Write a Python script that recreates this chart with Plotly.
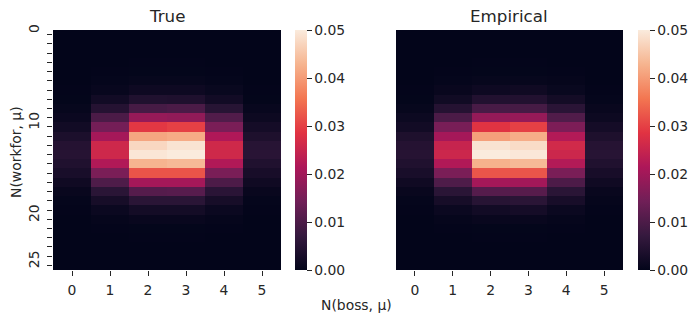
import plotly.graph_objects as go

boss_labels = [0, 1, 2, 3, 4, 5]
workfor_labels = list(range(26))
workfor_ticktext = ["0", "", "", "", "", "", "", "", "", "", "10", "", "", "", "", "", "", "", "", "",
                    "20", "", "", "", "", "25"]
colorbar_ticks = [0.0, 0.01, 0.02, 0.03, 0.04, 0.05]

# one row per N(workfor)
true_values = [
    [0.0000, 0.0000, 0.0000, 0.0000, 0.0000, 0.0000],
    [0.0000, 0.0000, 0.0000, 0.0000, 0.0000, 0.0000],
    [0.0000, 0.0000, 0.0000, 0.0000, 0.0000, 0.0000],
    [0.0000, 0.0000, 0.0001, 0.0001, 0.0000, 0.0000],
    [0.0000, 0.0001, 0.0002, 0.0002, 0.0001, 0.0000],
    [0.0000, 0.0003, 0.0006, 0.0006, 0.0003, 0.0000],
    [0.0001, 0.0007, 0.0016, 0.0016, 0.0009, 0.0001],
    [0.0002, 0.0021, 0.0042, 0.0040, 0.0022, 0.0002],
    [0.0006, 0.0048, 0.0092, 0.0098, 0.0052, 0.0007],
    [0.0012, 0.0098, 0.0187, 0.0182, 0.0105, 0.0014],
    [0.0022, 0.0148, 0.0290, 0.0300, 0.0155, 0.0026],
    [0.0036, 0.0205, 0.0411, 0.0418, 0.0218, 0.0038],
    [0.0048, 0.0258, 0.0474, 0.0490, 0.0260, 0.0052],
    [0.0050, 0.0258, 0.0494, 0.0500, 0.0260, 0.0054],
    [0.0042, 0.0220, 0.0429, 0.0435, 0.0220, 0.0042],
    [0.0032, 0.0154, 0.0321, 0.0321, 0.0155, 0.0030],
    [0.0018, 0.0102, 0.0205, 0.0205, 0.0100, 0.0018],
    [0.0008, 0.0056, 0.0110, 0.0113, 0.0055, 0.0008],
    [0.0003, 0.0028, 0.0056, 0.0056, 0.0028, 0.0003],
    [0.0001, 0.0012, 0.0024, 0.0024, 0.0012, 0.0001],
    [0.0000, 0.0004, 0.0008, 0.0008, 0.0004, 0.0000],
    [0.0000, 0.0001, 0.0002, 0.0002, 0.0001, 0.0000],
    [0.0000, 0.0000, 0.0001, 0.0001, 0.0000, 0.0000],
    [0.0000, 0.0000, 0.0000, 0.0000, 0.0000, 0.0000],
    [0.0000, 0.0000, 0.0000, 0.0000, 0.0000, 0.0000],
    [0.0000, 0.0000, 0.0000, 0.0000, 0.0000, 0.0000],
]
empirical_values = [
    [0.0000, 0.0000, 0.0000, 0.0000, 0.0000, 0.0000],
    [0.0000, 0.0000, 0.0000, 0.0000, 0.0000, 0.0000],
    [0.0000, 0.0000, 0.0000, 0.0000, 0.0000, 0.0000],
    [0.0000, 0.0000, 0.0001, 0.0001, 0.0000, 0.0000],
    [0.0000, 0.0001, 0.0002, 0.0002, 0.0001, 0.0000],
    [0.0000, 0.0003, 0.0006, 0.0006, 0.0004, 0.0000],
    [0.0001, 0.0008, 0.0015, 0.0018, 0.0009, 0.0001],
    [0.0002, 0.0020, 0.0044, 0.0044, 0.0024, 0.0003],
    [0.0006, 0.0048, 0.0095, 0.0092, 0.0055, 0.0008],
    [0.0013, 0.0098, 0.0185, 0.0187, 0.0105, 0.0014],
    [0.0022, 0.0152, 0.0285, 0.0300, 0.0158, 0.0026],
    [0.0038, 0.0205, 0.0405, 0.0420, 0.0222, 0.0038],
    [0.0048, 0.0248, 0.0490, 0.0480, 0.0262, 0.0050],
    [0.0050, 0.0255, 0.0500, 0.0495, 0.0255, 0.0052],
    [0.0042, 0.0220, 0.0425, 0.0435, 0.0222, 0.0042],
    [0.0031, 0.0155, 0.0322, 0.0322, 0.0155, 0.0030],
    [0.0018, 0.0102, 0.0205, 0.0202, 0.0100, 0.0018],
    [0.0008, 0.0056, 0.0110, 0.0112, 0.0056, 0.0008],
    [0.0003, 0.0028, 0.0052, 0.0056, 0.0030, 0.0004],
    [0.0001, 0.0012, 0.0022, 0.0025, 0.0012, 0.0001],
    [0.0000, 0.0004, 0.0008, 0.0008, 0.0004, 0.0000],
    [0.0000, 0.0001, 0.0002, 0.0002, 0.0001, 0.0000],
    [0.0000, 0.0000, 0.0001, 0.0001, 0.0000, 0.0000],
    [0.0000, 0.0000, 0.0000, 0.0000, 0.0000, 0.0000],
    [0.0000, 0.0000, 0.0000, 0.0000, 0.0000, 0.0000],
    [0.0000, 0.0000, 0.0000, 0.0000, 0.0000, 0.0000],
]

# seaborn rocket
rocket = [
    [0.0, "#03051a"], [1 / 7, "#35193e"], [2 / 7, "#701f57"], [3 / 7, "#ad1759"],
    [4 / 7, "#e13342"], [5 / 7, "#f37651"], [6 / 7, "#f6b48f"], [1.0, "#faebdd"],
]

WIDTH, HEIGHT = 700, 322
FONT = "DejaVu Sans"
TEXT = "#262626"
TOP, BOTTOM = 30, 270
TICK_SIZE = 13.9
TITLE_SIZE = 16.7


def px_x(x):
    return x / WIDTH


def px_y(y):
    return 1 - y / HEIGHT


def heatmap(values, xaxis, yaxis, bar_left):
    return go.Heatmap(
        z=values, x=boss_labels, y=workfor_labels,
        xaxis=xaxis, yaxis=yaxis,
        colorscale=rocket, zmin=0, zmax=0.05,
        colorbar=dict(
            x=px_x(bar_left), xanchor="left", xpad=0, ypad=0,
            y=px_y(TOP), yanchor="top",
            len=BOTTOM - TOP, lenmode="pixels",
            thickness=12, thicknessmode="pixels",
            outlinewidth=0,
            ticks="outside", ticklen=5, tickwidth=1, tickcolor=TEXT,
            tickvals=colorbar_ticks, tickformat=".2f", tickprefix="\u00a0",
            tickfont=dict(family=FONT, size=TICK_SIZE, color=TEXT),
        ),
    )


def label(text, x, y, size=TICK_SIZE, angle=0):
    fig.add_annotation(text=text, xref="paper", yref="paper", x=px_x(x), y=px_y(y),
                       xanchor="center", yanchor="middle", showarrow=False, textangle=angle,
                       font=dict(family=FONT, size=size, color=TEXT))


fig = go.Figure()
fig.add_trace(heatmap(true_values, "x", "y", 295))
fig.add_trace(heatmap(empirical_values, "x2", "y2", 638))

tick_style = dict(ticks="outside", ticklen=5, tickwidth=1, tickcolor=TEXT, showgrid=False,
                  zeroline=False, showline=False, ticklabelstandoff=2,
                  tickfont=dict(family=FONT, size=TICK_SIZE, color=TEXT))

fig.update_layout(
    width=WIDTH, height=HEIGHT,
    margin=dict(l=0, r=0, t=0, b=0, autoexpand=False),
    paper_bgcolor="white", plot_bgcolor="white",
    font=dict(family=FONT, color=TEXT),
    xaxis=dict(domain=[px_x(53), px_x(281)], range=[-0.5, 5.5], tickvals=boss_labels, **tick_style),
    xaxis2=dict(domain=[px_x(396), px_x(623)], range=[-0.5, 5.5], tickvals=boss_labels, **tick_style),
    yaxis=dict(domain=[px_y(BOTTOM), px_y(TOP)], range=[25.5, -0.5],
               tickvals=workfor_labels, ticktext=workfor_ticktext, tickangle=-90,
               ticklabelshift=4, **tick_style),
    yaxis2=dict(domain=[px_y(BOTTOM), px_y(TOP)], range=[25.5, -0.5], visible=False),
)

label("True", 167, 16, size=TITLE_SIZE)
label("Empirical", 509, 16, size=TITLE_SIZE)
label("N(boss, µ)", 356, 305)
label("N(workfor, µ)", 16, 152, angle=-90)

fig.write_html("out.html", config={"displayModeBar": False}, post_script="document.body.style.margin='0';")
